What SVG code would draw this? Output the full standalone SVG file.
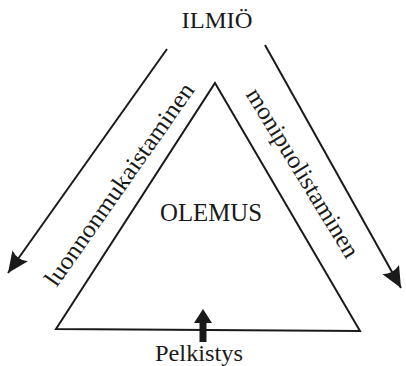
<svg xmlns="http://www.w3.org/2000/svg" width="406" height="366" viewBox="0 0 406 366">
<style>
.t{font-family:"Liberation Serif","Times New Roman",serif;fill:#1a1a1a}
.ln{stroke:#1a1a1a;stroke-width:2;fill:none}
</style>
<defs>
<marker id="ah" markerUnits="userSpaceOnUse" markerWidth="24" markerHeight="22" viewBox="0 0 24 22" refX="22" refY="11" orient="auto">
<path d="M22,11 L1,1.5 Q6,11 1,20.5 Z" fill="#1a1a1a"/>
</marker>
</defs>
<rect width="406" height="366" fill="#fff"/>
<g id="ilmio"><text class="t" x="217" y="28" font-size="23" text-anchor="middle" textLength="71" lengthAdjust="spacingAndGlyphs">ILMIÖ</text></g>
<g id="olemus">
<polygon class="ln" points="215,83 360,331 56,329"/>
<text class="t" x="211" y="221" font-size="24.5" text-anchor="middle" textLength="102" lengthAdjust="spacingAndGlyphs">OLEMUS</text>
</g>
<g id="pelkistys"><text class="t" x="199" y="361" font-size="23" text-anchor="middle" textLength="88" lengthAdjust="spacingAndGlyphs">Pelkistys</text></g>
<g id="connectors">
<path class="ln" d="M167,49 L8,273" marker-end="url(#ah)"/>
<path class="ln" d="M265,45 L401,288" marker-end="url(#ah)"/>
<polygon points="203,309 212,323 206.5,323 206.5,342 199.5,342 199.5,323 194,323" fill="#1a1a1a"/>
<text class="t" font-size="24.5" text-anchor="middle" textLength="242" lengthAdjust="spacingAndGlyphs" transform="translate(126,189) rotate(-55)">luonnonmukaistaminen</text>
<text class="t" font-size="24.5" text-anchor="middle" textLength="194" lengthAdjust="spacingAndGlyphs" transform="translate(296,177) rotate(58.5)">monipuolistaminen</text>
</g>
</svg>
